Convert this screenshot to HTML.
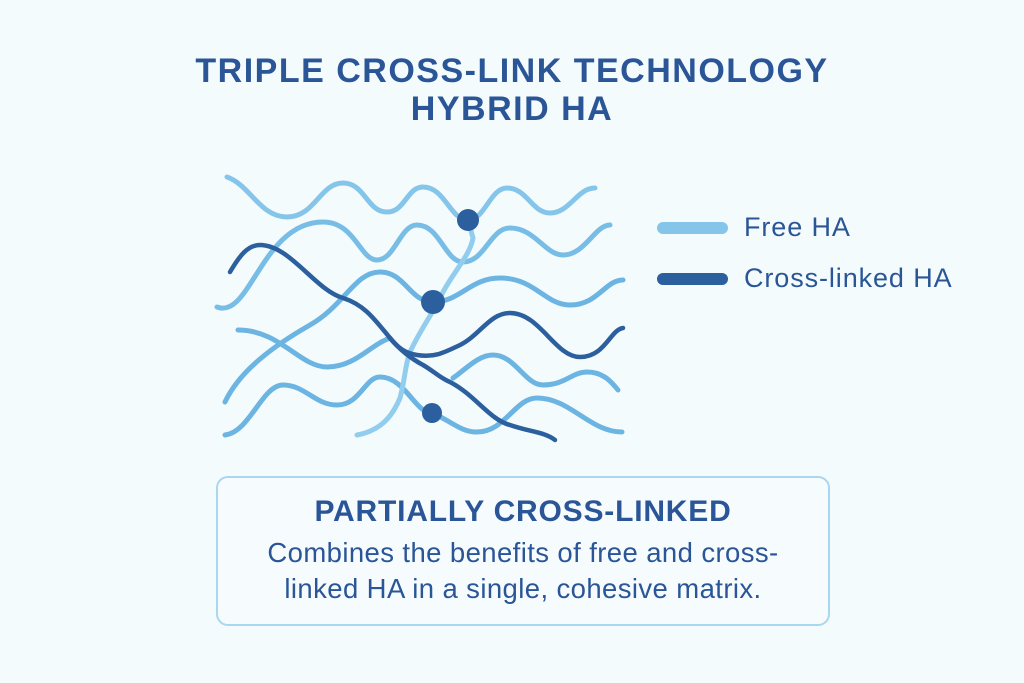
<!DOCTYPE html>
<html><head><meta charset="utf-8"><style>
body{margin:0;width:1024px;height:683px;background:#f4fbfd;font-family:"Liberation Sans",sans-serif;overflow:hidden;position:relative}
.t{position:absolute;left:0;width:1024px;text-align:center;color:#2a5597;font-weight:bold;font-size:34px;letter-spacing:1.5px}
.box{position:absolute;left:216px;top:476px;width:610px;height:146px;border:2px solid #a9d6f0;border-radius:12px;background:#f6fcfe}
.box h2{margin:17px 0 0;text-align:center;color:#2a5597;font-size:30px;letter-spacing:.8px}
.box p{margin:6px 0 0;text-align:center;color:#2a5597;font-size:27.5px;line-height:36px;letter-spacing:.4px}
.lg{position:absolute;left:744px;color:#2a5597;font-size:27px;letter-spacing:.9px}
</style></head><body>
<div class="t" style="top:52px">TRIPLE CROSS-LINK TECHNOLOGY</div>
<div class="t" style="top:90px">HYBRID HA</div>
<svg width="1024" height="683" style="position:absolute;left:0;top:0" fill="none" stroke-linecap="round">
<g stroke-width="5">
<path d="M227,177 C250,185 260,217 287,217 C315,217 320,183 343,183 C365,183 367,212 387,212 C405,212 407,187 423,187 C445,187 450,220 468,220 C485,220 490,188 507,188 C527,188 532,213 550,213 C570,213 577,188 595,188" stroke="#86c5ea"/>
<path d="M217,307 C250,320 262,222 323,222 C355,222 360,260 377,260 C395,260 400,225 417,225 C440,225 445,262 463,262 C485,262 490,228 510,228 C535,228 545,255 563,255 C585,255 595,225 610,225" stroke="#78bde6"/>
<path d="M225,402 C240,370 275,345 310,325 C345,305 355,272 380,272 C405,272 410,302 433,302 C460,302 470,278 500,278 C535,278 545,305 570,305 C598,305 605,280 623,280" stroke="#6cb4e2"/>
<path d="M238,330 C280,330 300,367 327,367 C355,367 370,345 390,338" stroke="#6cb4e2"/>
<path d="M453,378 C465,370 478,355 493,355 C515,355 525,385 543,385 C565,385 572,372 587,372 C602,372 610,380 618,390" stroke="#6cb4e2"/>
<path d="M225,435 C250,432 262,385 283,385 C305,385 315,405 337,405 C360,405 365,377 380,377 C405,377 415,413 432,413 C450,420 460,432 477,432 C505,432 515,398 537,398 C570,398 590,432 622,432" stroke="#6cb4e2"/>
<path d="M357,435 C385,430 395,410 400,398 C405,380 405,365 410,352 C420,330 435,310 443,292 C455,270 470,255 473,238 L468,220" stroke="#92cdee"/>
<path d="M230,272 C240,255 248,245 260,245 C290,245 315,290 343,298 C365,305 375,320 390,338 C398,348 405,353 417,355 C435,358 445,352 460,345 C480,335 490,313 510,313 C540,313 555,357 580,357 C605,357 610,330 623,328" stroke="#2c5f9e" stroke-width="4.5"/>
<path d="M390,338 C400,350 410,358 423,365 C435,372 440,378 450,382 C475,395 490,420 510,425 C530,432 545,432 555,440" stroke="#2c5f9e" stroke-width="4.5"/>
</g>
<g fill="#2c5f9e"><circle cx="468" cy="220" r="11"/><circle cx="433" cy="302" r="12"/><circle cx="432" cy="413" r="10"/></g>
<line x1="663" y1="228" x2="722" y2="228" stroke="#86c5ea" stroke-width="12"/>
<line x1="663" y1="279" x2="722" y2="279" stroke="#2c5f9e" stroke-width="12"/>
</svg>
<div class="lg" style="top:212px">Free HA</div>
<div class="lg" style="top:263px">Cross-linked HA</div>
<div class="box"><h2>PARTIALLY CROSS-LINKED</h2><p>Combines the benefits of free and cross-<br>linked HA in a single, cohesive matrix.</p></div>
</body></html>
